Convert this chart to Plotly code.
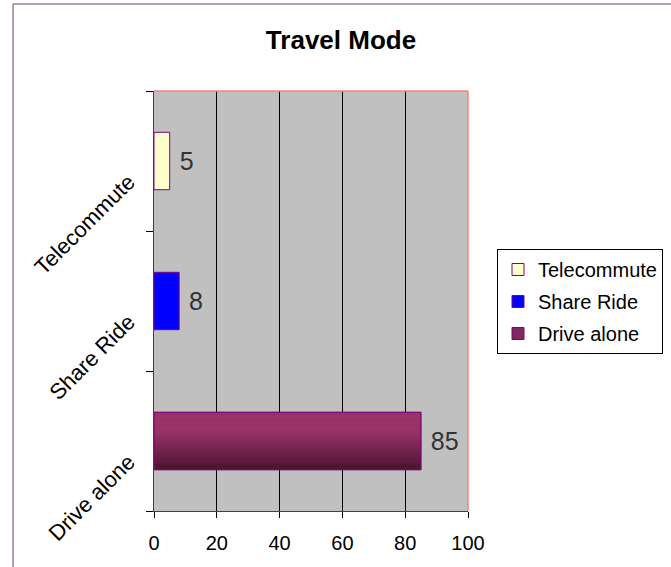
import plotly.graph_objects as go

categories = ["Drive alone", "Share Ride", "Telecommute"]
values = [85, 8, 5]
x_ticks = [0, 20, 40, 60, 80, 100]

fills = {"Drive alone": "#7E2A5E", "Share Ride": "#0000FF", "Telecommute": "#FFFFCC"}
ranks = {"Telecommute": 1, "Share Ride": 2, "Drive alone": 3}
outline = "#800080"
BW = 0.41
FONT = "Liberation Sans, Arial, sans-serif"

fig = go.Figure()

for cat, val in zip(categories, values):
    fig.add_trace(go.Bar(
        y=[cat], x=[val], orientation="h", name=cat, width=BW,
        marker=dict(color=fills[cat], line=dict(color=outline, width=1)),
        text=[val], texttemplate=" %{text}", textposition="outside", cliponaxis=False,
        textfont=dict(family=FONT, size=25, color="#333333"),
        legendgroup=cat, legendrank=ranks[cat],
    ))
    if cat == "Drive alone":
        # gradient fill (dark bottom -> maroon top)
        n = 24
        c0 = (0x48, 0x16, 0x2E)
        c1 = (0x9A, 0x34, 0x68)
        for i in range(n):
            t = i / (n - 1)
            t2 = min(1.0, t * 1.5)
            col = tuple(int(c0[k] + (c1[k] - c0[k]) * t2) for k in range(3))
            fig.add_trace(go.Bar(
                y=[cat], x=[val], orientation="h", width=BW / n,
                offset=-BW / 2 + i * BW / n,
                marker=dict(color="rgb(%d,%d,%d)" % col, line=dict(width=0)),
                showlegend=False, hoverinfo="skip", legendgroup=cat,
            ))
        fig.add_trace(go.Bar(
            y=[cat], x=[val], orientation="h", width=BW,
            marker=dict(color="rgba(0,0,0,0)", line=dict(color=outline, width=1)),
            showlegend=False, hoverinfo="skip", legendgroup=cat,
        ))

fig.update_layout(
    width=671, height=567,
    margin=dict(l=154, r=203, t=91, b=56, autoexpand=False),
    paper_bgcolor="white", plot_bgcolor="#C0C0C0",
    barmode="overlay",
    font=dict(family=FONT, size=20, color="black"),
    title=dict(text="<b>Travel Mode</b>", x=341 / 671, xanchor="center",
               y=1 - 40 / 567, yanchor="middle", xref="container", yref="container",
               font=dict(family=FONT, size=26, color="black")),
    xaxis=dict(range=[0, 100], tickvals=x_ticks, ticks="outside", ticklen=6,
               tickcolor="black", showgrid=True, gridcolor="black", gridwidth=1,
               showline=True, linecolor="#6A3030", linewidth=1, zeroline=False,
               ticklabelstandoff=8,
               tickfont=dict(size=20, color="black"), automargin=False),
    yaxis=dict(categoryorder="array", categoryarray=categories, tickangle=-45,
               ticks="outside", tickson="boundaries", ticklen=7, tickcolor="black",
               showgrid=False, showline=True, linecolor="#404040", linewidth=1,
               ticklabelstandoff=20, ticklabelshift=18, automargin=False,
               tickfont=dict(size=22, color="black")),
    legend=dict(x=(497 - 154) / 314, y=(511 - 249) / 420, xanchor="left", yanchor="top",
                bgcolor="white", bordercolor="black", borderwidth=1,
                font=dict(family=FONT, size=20, color="black"),
                traceorder="grouped", tracegroupgap=3),
    shapes=[
        dict(type="line", xref="paper", yref="paper", x0=0, x1=1, y0=1, y1=1,
             line=dict(color="#FF8080", width=1.5)),
        dict(type="line", xref="paper", yref="paper", x0=1, x1=1, y0=0, y1=1,
             line=dict(color="#FF8080", width=1.5)),
        dict(type="line", xref="paper", yref="paper", x0=(13 - 154) / 314, x1=2,
             y0=(511 - 4) / 420, y1=(511 - 4) / 420, line=dict(color="#A0808F", width=1.5)),
        dict(type="line", xref="paper", yref="paper", x0=(13 - 154) / 314, x1=(13 - 154) / 314,
             y0=(511 - 4) / 420, y1=-1, line=dict(color="#A0808F", width=1.5)),
    ],
)

fig.write_html("out.html")
